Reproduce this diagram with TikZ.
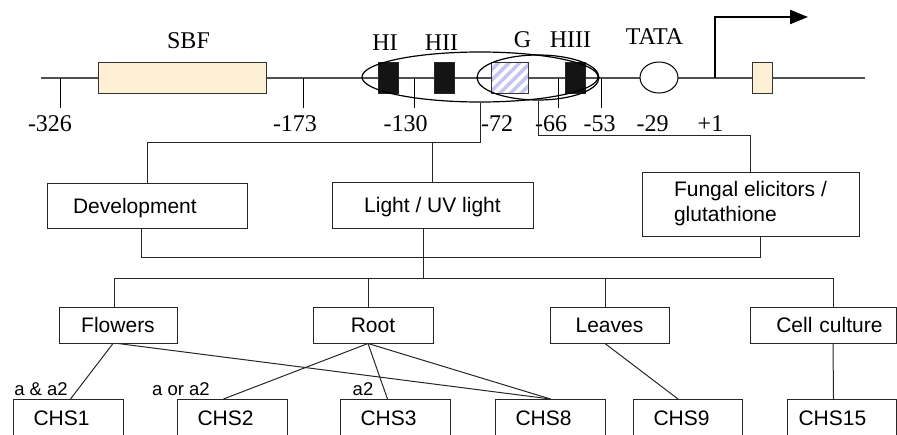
\documentclass[tikz,border=0pt]{standalone}
\usepackage{fontspec}
\setmainfont{Liberation Serif}
\setsansfont{Liberation Sans}
\usetikzlibrary{shapes.geometric,arrows.meta,patterns.meta}
\definecolor{beige}{RGB}{253,240,213}
\definecolor{hatchc}{RGB}{196,196,240}
\definecolor{linegray}{RGB}{80,80,80}
\begin{document}
\begin{tikzpicture}[x=1pt,y=-1pt,
  ser/.style={font=\fontsize{24}{28}\selectfont, inner sep=0pt},
  sans/.style={font=\sffamily\fontsize{21}{25}\selectfont},
  lab/.style={font=\sffamily\fontsize{18.5}{22}\selectfont, inner sep=0pt},
  box/.style={draw=black!85, line width=1pt, sans, inner sep=0pt},
  onebox/.style={box, text height=15pt, text depth=0pt},
  chs/.style={box, text height=15pt, text depth=0pt, minimum height=36pt, anchor=north west, text width=70pt, align=left, inner xsep=20pt},
  blk/.style={draw=black!85, line width=1pt, fill=black!92, minimum width=20pt, minimum height=31pt, inner sep=0pt},
  bei/.style={draw=black!80, line width=1pt, fill=beige, minimum height=31pt, inner sep=0pt},
  tick/.style={draw=black, line width=1pt},
  conn/.style={draw=black!85, line width=1pt},
  ell/.style={draw=black, ellipse, line width=1.2pt, inner sep=0pt}
]
\useasboundingbox (0,0) rectangle (897,434);
\clip (0,0) rectangle (897,434);

% main DNA line
\coordinate (L0) at (41,78);
\coordinate (L1) at (865,78);
\draw[linegray, line width=1.3pt] (L0) -- (L1);

% ticks
\coordinate (t326) at (60,78);
\coordinate (t173) at (303,78);
\coordinate (t130) at (414,78);
\coordinate (t66) at (558,78);
\coordinate (t53) at (601,78);
\foreach \t in {t326,t173,t130,t66,t53} \draw[tick] (\t) -- ++(0,30);

% elements
\node[bei, minimum width=168pt] (sbf) at (182,77.5) {};
\node[blk] (hi) at (388,77.5) {};
\node[blk] (hii) at (444,77.5) {};
\node[draw=black!80, line width=1pt, minimum width=37pt, minimum height=31pt, inner sep=0pt,
      preaction={fill=white}, pattern={Lines[angle=45,distance=7.5pt,line width=3.5pt]}, pattern color=hatchc] (g) at (509.5,77.5) {};
\node[blk] (hiii) at (575,77.5) {};
\node[draw=black, ellipse, fill=white, line width=1pt, minimum width=38pt, minimum height=31pt, inner sep=0pt] (tata) at (659,77.5) {};
\node[bei, minimum width=20pt] (ex) at (762,77.5) {};

\node[ell, minimum width=236pt, minimum height=50pt] (bigell) at (480,77) {};
\node[ell, minimum width=122pt, minimum height=45pt] (smallell) at (538,77.5) {};

% transcription start arrow
\coordinate (tss) at (715,78);
\coordinate (arrend) at (808,17);
\draw[line width=2pt, -{Triangle[length=18pt,width=14pt]}] (tss) |- (arrend);

% top labels
\node[ser] (lsbf) at (188.5,40.5) {SBF};
\node[ser] (lhi) at (385,43) {HI};
\node[ser] (lhii) at (441.5,43) {HII};
\node[ser] (lg) at (522.5,40) {G};
\node[ser] (lhiii) at (570.5,40) {HIII};
\node[ser] (ltata) at (654.5,36.5) {TATA};

% position labels
\node[ser] (p326) at (50,124) {-326};
\node[ser] (p173) at (295,124) {-173};
\node[ser] (p130) at (405.5,124) {-130};
\node[ser] (p72) at (497,124) {-72};
\node[ser] (p66) at (551,124) {-66};
\node[ser] (p53) at (599.5,124) {-53};
\node[ser] (p29) at (652.5,124) {-29};
\node[ser] (p1) at (710.5,124) {+1};

% signal boxes
\node[box, minimum height=45pt, text width=148pt, align=left, inner xsep=26pt, text height=15pt, text depth=0pt] (dev) at (147,205.5) {Development};
\node[onebox, minimum width=201pt, minimum height=46pt] (light) at (432.5,205) {Light / UV light};
\node[box, minimum height=64pt, minimum width=217pt, align=left] (fung) at (750.5,204) {Fungal elicitors /\\glutathione};

% tissue boxes
\node[onebox, minimum width=118pt, minimum height=36pt] (flow) at (118,325) {Flowers};
\node[onebox, minimum width=120pt, minimum height=36pt] (root) at (373,325) {Root};
\node[onebox, minimum width=119pt, minimum height=36pt] (leaves) at (609.5,325) {Leaves};
\node[box, minimum height=36pt, text width=119pt, align=right, inner xsep=13.5pt, text height=15pt, text depth=0pt] (cell) at (823,325) {Cell culture};

% CHS boxes
\node[chs] (chs1) at (13,399) {CHS1};
\node[chs] (chs2) at (177,399) {CHS2};
\node[chs] (chs3) at (340,399) {CHS3};
\node[chs] (chs8) at (495,399) {CHS8};
\node[chs, text width=69pt] (chs9) at (633,399) {CHS9};
\node[chs, text width=87pt, inner xsep=11pt] (chs15) at (787,399) {CHS15};

% small labels
\node[lab] (la1) at (41,389) {a \& a2};
\node[lab] (la2) at (181,389) {a or a2};
\node[lab] (la3) at (363,389) {a2};

% connectors from promoter to signals
\draw[conn] (bigell.south) -- (bigell.south |- 0,142) -| (dev.north);
\draw[conn] (light.north |- 0,142) -- (light.north);
\draw[conn] (smallell.south) -- (smallell.south |- 0,135) -| (fung.north);

% signals to bus
\coordinate (devd) at ([xshift=-6pt]dev.south);
\coordinate (fungd) at ([xshift=9.5pt]fung.south);
\draw[conn] (devd) |- (fungd |- 0,257) -- (fungd);
\coordinate (lightd) at ([xshift=-9.5pt]light.south);
\coordinate (bus) at (lightd |- 0,278);
\draw[conn] (lightd) -- (bus);

% bus to tissues
\coordinate (flowu) at ([xshift=-4pt]flow.north);
\coordinate (rootu) at ([xshift=-5pt]root.north);
\coordinate (leavu) at ([xshift=-4.5pt]leaves.north);
\coordinate (cellu) at ([xshift=10pt]cell.north);
\draw[conn] (flowu |- bus) -- (cellu |- bus);
\foreach \u in {flowu,rootu,leavu,cellu} \draw[conn] (\u |- bus) -- (\u);

% tissues to genes
\draw[conn] ([xshift=-5pt]flow.south) -- ([xshift=2pt]chs1.north);
\draw[conn] (flow.south) -- (chs8.north);
\draw[conn] ([xshift=-5pt]root.south) -- ([xshift=-9pt]chs2.north);
\draw[conn] ([xshift=-5pt]root.south) -- ([xshift=-8pt]chs3.north);
\draw[conn] ([xshift=-5pt]root.south) -- (chs8.north);
\draw[conn] ([xshift=-4.5pt]leaves.south) -- ([xshift=-10pt]chs9.north);
\draw[conn] ([xshift=10pt]cell.south) -- ([xshift=-8.5pt]chs15.north);
\end{tikzpicture}
\end{document}
